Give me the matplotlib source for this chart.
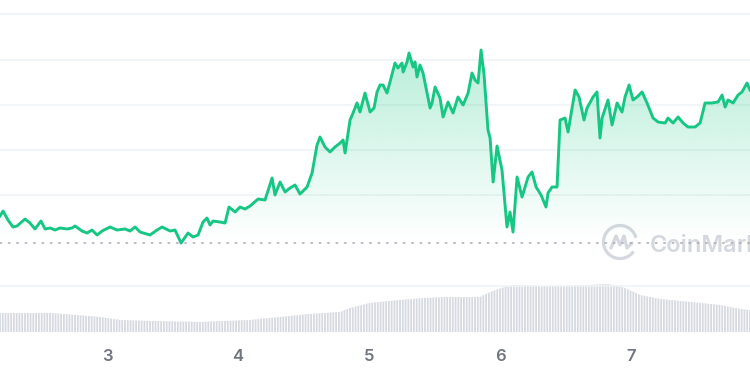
import numpy as np
import matplotlib
matplotlib.use('Agg')
import matplotlib.pyplot as plt
from matplotlib.patches import Polygon, Arc

# price series (day of month, price in chart units; grid step = 10)
days = [2.183, 2.206, 2.244, 2.282, 2.313, 2.374, 2.412, 2.450, 2.496, 2.527,
        2.565, 2.603, 2.641, 2.695, 2.733, 2.756, 2.809, 2.847, 2.885, 2.924,
        2.962, 3.023, 3.076, 3.137, 3.176, 3.214, 3.252, 3.328, 3.382, 3.420,
        3.481, 3.519, 3.565, 3.618, 3.657, 3.695, 3.733, 3.763, 3.786, 3.809,
        3.863, 3.901, 3.931, 3.977, 4.015, 4.053, 4.092, 4.153, 4.206, 4.260,
        4.282, 4.321, 4.359, 4.397, 4.435, 4.473, 4.527, 4.565, 4.603, 4.626,
        4.664, 4.702, 4.740, 4.779, 4.802, 4.817, 4.855, 4.878, 4.908, 4.931,
        4.969, 5.008, 5.038, 5.061, 5.084, 5.107, 5.137, 5.160, 5.198, 5.221,
        5.252, 5.260, 5.290, 5.305, 5.336, 5.351, 5.366, 5.389, 5.412, 5.443,
        5.466, 5.481, 5.504, 5.542, 5.565, 5.603, 5.641, 5.679, 5.718, 5.756,
        5.786, 5.809, 5.832, 5.855, 5.878, 5.893, 5.908, 5.924, 5.947, 5.977,
        6.015, 6.053, 6.076, 6.099, 6.130, 6.168, 6.214, 6.244, 6.275, 6.313,
        6.351, 6.366, 6.397, 6.435, 6.458, 6.496, 6.519, 6.573, 6.603, 6.641,
        6.664, 6.710, 6.740, 6.763, 6.779, 6.824, 6.855, 6.893, 6.931, 6.954,
        6.985, 7.015, 7.046, 7.084, 7.122, 7.168, 7.206, 7.260, 7.282, 7.321,
        7.359, 7.397, 7.435, 7.489, 7.527, 7.565, 7.618, 7.664, 7.695, 7.718,
        7.740, 7.779, 7.817, 7.847, 7.885, 7.908]
price = [15.46, 16.56, 14.57, 13.03, 13.25, 14.79, 13.91, 12.59, 14.35, 12.59,
         12.81, 12.36, 12.81, 12.59, 12.81, 13.25, 12.14, 11.70, 12.36, 11.26,
         12.14, 13.03, 12.36, 12.59, 12.14, 13.03, 11.92, 11.26, 12.36, 13.03,
         12.14, 12.36, 9.49, 11.70, 10.82, 11.26, 14.13, 15.01, 13.47, 14.35,
         14.13, 13.91, 17.44, 16.34, 17.44, 17.00, 17.66, 19.21, 18.99, 23.85,
         20.09, 22.96, 20.76, 21.64, 22.30, 20.31, 21.86, 24.95, 31.13, 32.90,
         30.69, 29.59, 30.69, 31.57, 32.24, 29.37, 36.65, 38.20, 40.41, 38.42,
         42.61, 38.42, 39.30, 42.84, 44.38, 44.38, 42.61, 45.04, 49.24, 48.13,
         49.24, 47.25, 49.46, 51.45, 48.36, 49.46, 46.15, 48.80, 47.03, 42.61,
         39.30, 40.41, 43.94, 41.51, 37.32, 40.63, 38.20, 41.73, 39.96, 42.61,
         47.03, 45.48, 44.82, 52.11, 46.59, 40.63, 34.44, 32.68, 22.96, 30.91,
         25.61, 13.03, 16.34, 11.92, 24.07, 19.65, 24.07, 25.17, 21.86, 20.09,
         17.44, 20.53, 21.86, 21.86, 36.65, 37.09, 34.00, 43.28, 41.73, 36.65,
         39.30, 41.73, 42.84, 32.68, 37.09, 41.07, 35.55, 40.41, 38.42, 41.73,
         44.38, 41.07, 41.73, 42.84, 40.41, 37.09, 36.21, 35.99, 37.09, 35.99,
         37.32, 35.99, 35.11, 35.11, 35.99, 40.41, 40.41, 40.63, 42.17, 39.52,
         41.07, 40.41, 42.17, 42.84, 44.82, 43.28]

# volume (same days, chart units)
vol_days = [2.183, 2.565, 2.947, 3.100, 3.328, 3.710, 4.092, 4.321, 4.550, 4.779,
            4.855, 5.008, 5.237, 5.427, 5.618, 5.847, 5.924, 6.038, 6.115, 6.305,
            6.496, 6.687, 6.824, 6.954, 7.069, 7.221, 7.450, 7.679, 7.832, 7.908]
volume = [9.5, 9.5, 7.5, 6.0, 5.5, 5.0, 6.0, 7.5, 9.0, 10.0,
          12.0, 14.5, 16.0, 17.0, 17.5, 17.5, 20.0, 22.5, 23.5, 23.0,
          23.0, 23.5, 24.0, 22.0, 18.5, 16.5, 15.0, 13.5, 11.5, 11.0]

open_price = 9.49
grid_levels = [0, 20, 30, 40, 50, 60]
tick_days = [3, 4, 5, 6, 7]

green = '#16c784'
plt.rcParams['hatch.linewidth'] = 0.7
plt.rcParams['hatch.color'] = 'white'

fig = plt.figure(figsize=(7.5, 3.75), dpi=100)
fig.patch.set_facecolor('white')

# volume panel
vax = fig.add_axes([0, 43 / 375, 1, 60 / 375])
vax.set_xlim(days[0], days[-1])
vax.set_ylim(0, 30)
vax.fill_between(vol_days, volume, 0, facecolor='#d6d9e0', edgecolor='white',
                 hatch='||||||', linewidth=0)
vax.axis('off')

# price panel
ax = fig.add_axes([0, 0, 1, 1])
ax.set_zorder(vax.get_zorder() + 1)
ax.patch.set_alpha(0)
ax.axis('off')

for g in grid_levels:
    ax.axhline(g, color='#eff2f5', linewidth=1.1, zorder=1)

# gradient fill under the line
grad = np.zeros((256, 1, 4))
grad[:, 0, :3] = matplotlib.colors.to_rgb(green)
grad[:, 0, 3] = np.linspace(0.32, 0.0, 256)
im = ax.imshow(grad, extent=[days[0], days[-1], open_price, 54], aspect='auto',
               origin='upper', zorder=2, interpolation='bilinear')
poly = Polygon(list(zip(days, price)) + [(days[-1], open_price), (days[0], open_price)],
               closed=True, facecolor='none', edgecolor='none')
ax.add_patch(poly)
im.set_clip_path(poly)
ax.set_xlim(days[0], days[-1])
ax.set_ylim(-19.65, 63.15)

ax.axhline(open_price, color='#a6abb5', linewidth=1.1, linestyle=(0, (1, 4.5)),
           dash_capstyle='round', zorder=3)

ax.plot(days, price, color=green, linewidth=2.1, solid_joinstyle='round', zorder=4)

# x tick labels
for d in tick_days:
    ax.text(d, 0.05, str(d), transform=ax.get_xaxis_transform(), ha='center',
            va='center', fontsize=12, fontfamily='Inter', fontweight='semibold',
            color='#70757f')

# watermark (cut off at the right edge, as in the source screenshot)
ax.text(650 / 750, (375 - 252) / 375, 'CoinMarketCap', transform=fig.transFigure,
        fontsize=17, fontfamily='Inter', fontweight='semibold', color='#d5d8de',
        ha='left', va='baseline', zorder=1)
lax = fig.add_axes([600 / 750, (375 - 262) / 375, 40 / 750, 40 / 375])
lax.set_xlim(-20, 20)
lax.set_ylim(-20, 20)
lax.axis('off')
lax.add_patch(Arc((0, 0), 33, 33, theta1=15, theta2=325, color='#d5d8de', linewidth=2.3))
lax.plot([-9, -4, 0, 4, 7, 12], [-6, 6, -3, 6, -6, -1], color='#d5d8de',
         linewidth=2.3, solid_joinstyle='round', solid_capstyle='round')

plt.savefig('out.png', dpi=100)
